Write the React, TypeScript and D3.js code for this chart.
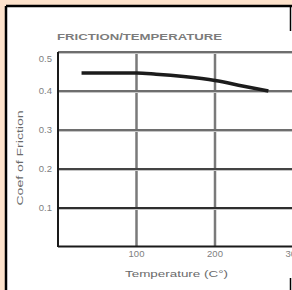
import React from "react";
import * as d3 from "d3";

const title = "FRICTION/TEMPERATURE";
const xTitle = "Temperature (C°)";
const yTitle = "Coef of Friction";
const yTicks = [0.5, 0.4, 0.3, 0.2, 0.1];
const xTicks = [100, 200, 300];
const temps = [30, 100, 125, 160, 200, 235, 268];
const friction = [0.446, 0.446, 0.443, 0.437, 0.427, 0.413, 0.4];

const W = 292;
const H = 290;

export default function App() {
  const x = d3.scaleLinear().domain([0, 300]).range([58, 293.5]);
  const y = d3.scaleLinear().domain([0, 0.5]).range([247, 52]);
  const pts: [number, number][] = temps.map((t, i) => [t, friction[i]]);
  const line = d3
    .line<[number, number]>()
    .x((d) => x(d[0]))
    .y((d) => y(d[1]))
    .curve(d3.curveMonotoneX);

  const gridColor: Record<string, string> = {
    "0.5": "#6e6e6e",
    "0.4": "#6e6e6e",
    "0.3": "#6e6e6e",
    "0.2": "#444",
    "0.1": "#2e2e2e",
  };

  return (
    <svg
      width={W}
      height={H}
      style={{ position: "absolute", left: 0, top: 0, display: "block" }}
      fontFamily="Liberation Sans, Arial, sans-serif"
    >
      <rect x={0} y={0} width={W} height={H} fill="#fde2cb" />
      <rect x={6} y={6} width={W - 6} height={H - 6} fill="#ffffff" />
      {/* frame */}
      <line x1={6} y1={6} x2={W} y2={6} stroke="#000" strokeWidth={2.5} />
      <line x1={6} y1={6} x2={6} y2={H} stroke="#000" strokeWidth={2.5} />
      <line x1={290.5} y1={6} x2={290.5} y2={31} stroke="#000" strokeWidth={1.5} />
      <line x1={290.5} y1={278} x2={290.5} y2={H} stroke="#000" strokeWidth={1.5} />

      {/* title */}
      <text
        x={57}
        y={40}
        fontSize={9.5}
        fontWeight="bold"
        fill="#7c7c7c"
        textLength={165}
        lengthAdjust="spacingAndGlyphs"
      >
        {title}
      </text>

      {/* vertical gridlines */}
      {xTicks.map((t) => (
        <line
          key={"vx" + t}
          x1={x(t)}
          x2={x(t)}
          y1={y(0.5)}
          y2={y(0)}
          stroke="#7a7a7a"
          strokeWidth={2.5}
        />
      ))}

      {/* horizontal gridlines */}
      {yTicks.map((v) => (
        <g key={"hy" + v}>
          <line
            x1={x(0)}
            x2={W}
            y1={y(v) + 1.5}
            y2={y(v) + 1.5}
            stroke="#c4c4c4"
            strokeWidth={1}
          />
          <line
            x1={x(0)}
            x2={W}
            y1={y(v)}
            y2={y(v)}
            stroke={gridColor[String(v)]}
            strokeWidth={2}
          />
        </g>
      ))}

      {/* axes */}
      <line x1={x(0)} x2={x(0)} y1={y(0.5)} y2={y(0)} stroke="#1a1a1a" strokeWidth={2} />
      <line x1={x(0)} x2={W} y1={y(0) - 0.5} y2={y(0) - 0.5} stroke="#1a1a1a" strokeWidth={2} />

      {/* curve */}
      <path d={line(pts) || ""} fill="none" stroke="#1c1c1c" strokeWidth={3.5} />

      {/* y tick labels */}
      {yTicks.map((v, i) => (
        <text
          key={"ly" + v}
          x={52}
          y={y(v) + (i === 0 ? 7 : 0)}
          dy="0.35em"
          fontSize={9.5}
          fill="#808080"
          textAnchor="end"
        >
          {d3.format(".1f")(v)}
        </text>
      ))}

      {/* x tick labels */}
      {xTicks.map((t) => (
        <text
          key={"lx" + t}
          x={x(t)}
          y={254}
          dy="0.35em"
          fontSize={9.5}
          fill="#808080"
          textAnchor="middle"
        >
          {t}
        </text>
      ))}

      {/* axis titles */}
      <text
        x={125}
        y={277}
        fontSize={9.5}
        fill="#6a6a6a"
        textLength={103}
        lengthAdjust="spacingAndGlyphs"
      >
        {xTitle}
      </text>
      <text
        transform={`translate(23,158) rotate(-90)`}
        fontSize={9.5}
        fill="#6a6a6a"
        textAnchor="middle"
        textLength={95}
        lengthAdjust="spacingAndGlyphs"
      >
        {yTitle}
      </text>
    </svg>
  );
}
